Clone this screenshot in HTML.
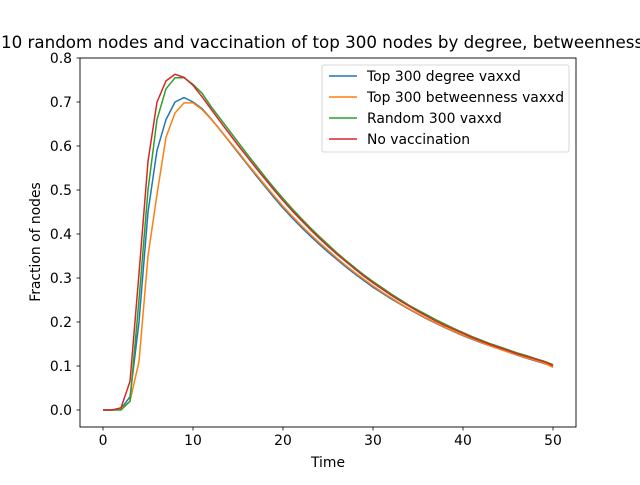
<!DOCTYPE html>
<html><head><meta charset="utf-8"><style>
body{margin:0;background:#fff}
svg{font-family:"DejaVu Sans","Liberation Sans",sans-serif}
</style></head><body>
<svg id="chart" width="640" height="480" viewBox="0 0 640 480">
<rect width="640" height="480" fill="#fff"/>
<text x="1" y="48" font-size="16.7" fill="#000">10 random nodes and vaccination of top 300 nodes by degree, betweenness</text>
<g id="axes"></g>
<g id="series"></g>
<rect x="80" y="58" width="496" height="369" fill="none" stroke="#000" stroke-width="0.9"/>
<g id="legend"></g>
<text x="328" y="467" font-size="13.9" text-anchor="middle">Time</text>
<text transform="translate(40,242) rotate(-90)" font-size="13.9" text-anchor="middle">Fraction of nodes</text>
</svg>
<script>
const times = Array.from({length:51},(_, i)=>i);
const degreeVax = [0,0,0.003,0.03,0.2,0.45,0.59,0.66,0.70,0.71,
0.700,0.685,0.662,0.637,0.611,0.585,0.559,0.533,0.508,0.483,
0.459,0.437,0.416,0.396,0.377,0.359,0.342,0.325,0.309,0.294,
0.279,0.266,0.253,0.241,0.229,0.218,0.207,0.197,0.187,0.178,
0.169,0.161,0.153,0.146,0.139,0.132,0.125,0.118,0.112,0.106,0.099];
const betweennessVax = [0,0,0.002,0.02,0.11,0.35,0.49,0.62,0.675,0.698,
0.698,0.683,0.661,0.637,0.612,0.587,0.561,0.536,0.511,0.487,
0.463,0.441,0.420,0.400,0.381,0.363,0.345,0.328,0.312,0.297,
0.282,0.268,0.255,0.242,0.230,0.219,0.208,0.198,0.188,0.179,
0.170,0.162,0.154,0.146,0.139,0.132,0.126,0.119,0.113,0.107,0.097];
const randomVax = [0,0,0,0.02,0.25,0.5,0.66,0.73,0.755,0.755,
0.74,0.72,0.69,0.663,0.636,0.609,0.582,0.556,0.530,0.505,
0.481,0.458,0.436,0.415,0.395,0.376,0.357,0.340,0.323,0.307,
0.292,0.278,0.264,0.251,0.238,0.227,0.216,0.205,0.195,0.185,
0.176,0.167,0.159,0.151,0.144,0.137,0.130,0.124,0.117,0.111,0.103];
const noVax = [0,0,0.005,0.065,0.31,0.565,0.70,0.748,0.763,0.756,
0.738,0.712,0.684,0.656,0.629,0.602,0.576,0.550,0.525,0.500,
0.476,0.453,0.432,0.411,0.391,0.372,0.354,0.337,0.320,0.304,
0.289,0.275,0.261,0.248,0.236,0.224,0.213,0.202,0.192,0.183,
0.174,0.165,0.157,0.149,0.142,0.135,0.128,0.122,0.116,0.110,0.101];
const seriesLabels = ["Top 300 degree vaxxd","Top 300 betweenness vaxxd","Random 300 vaxxd","No vaccination"];
const xTicks = [0,10,20,30,40,50];
const yTicks = [0.0,0.1,0.2,0.3,0.4,0.5,0.6,0.7,0.8];

const NS="http://www.w3.org/2000/svg";
const X = v => 103 + v*9;
const Y = v => 410 - v*440;
function mk(tag, attrs, parent){const e=document.createElementNS(NS,tag);for(const k in attrs)e.setAttribute(k,attrs[k]);parent.appendChild(e);return e;}
const axes=document.getElementById('axes');
xTicks.forEach(t=>{
  const l=mk('line',{x1:X(t),x2:X(t),y1:427,y2:430.5,stroke:'#000','stroke-width':0.8},axes);
  
  
  const tx=mk('text',{x:X(t),y:445,'font-size':13.9,'text-anchor':'middle'},axes);
  tx.textContent=t;
  
  
});
yTicks.forEach(t=>{
  const l=mk('line',{x1:76.5,x2:80,y1:Y(t),y2:Y(t),stroke:'#000','stroke-width':0.8},axes);
  
  
  const tx=mk('text',{x:72,y:Y(t)+5,'font-size':13.9,'text-anchor':'end'},axes);
  tx.textContent=t.toFixed(1);
  
  
});
const colors=['#1f77b4','#ff7f0e','#2ca02c','#d62728'];
const data=[degreeVax,betweennessVax,randomVax,noVax];
const names=['degree-vax-line','betweenness-vax-line','random-vax-line','no-vaccination-line'];
const sg=document.getElementById('series');
data.forEach((d,i)=>{
  const p=mk('polyline',{points:d.map((v,j)=>X(times[j])+','+Y(v)).join(' '),fill:'none',stroke:colors[i],'stroke-width':1.5,'stroke-linejoin':'round'},sg);
  
  
});
const lg=document.getElementById('legend');
const box=mk('rect',{x:322,y:65,width:247,height:87,rx:2,fill:'#fff','fill-opacity':0.8,stroke:'#ccc','stroke-width':0.8},lg);


seriesLabels.forEach((s,i)=>{
  const y=76+i*21;
  const l=mk('line',{x1:329,x2:357,y1:y,y2:y,stroke:colors[i],'stroke-width':1.5},lg);
  
  
  const t=mk('text',{x:367,y:y+5,'font-size':13.9},lg);
  t.textContent=s;
  
  
});
</script>
</body></html>
